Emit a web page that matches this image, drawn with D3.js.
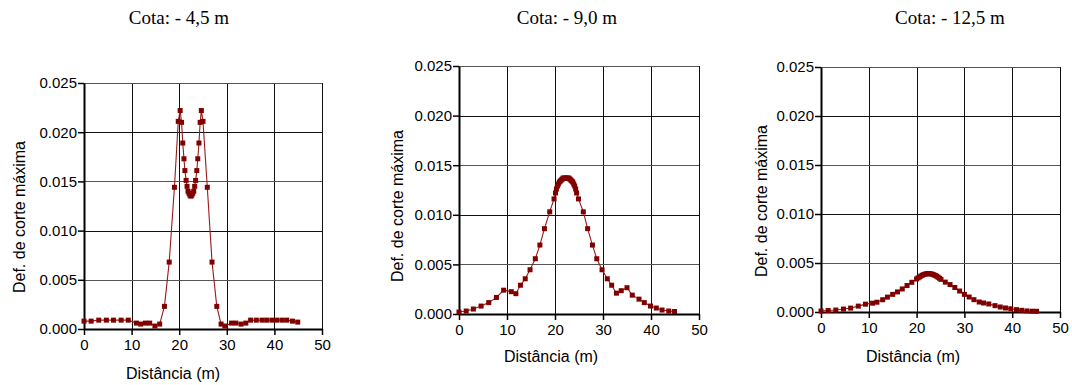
<!DOCTYPE html>
<html>
<head>
<meta charset="utf-8">
<script src="https://cdn.jsdelivr.net/npm/d3@7"></script>
<style>
  body { margin: 0; background: #fff; }
  .panel-title { font-family: 'Liberation Serif', 'Times New Roman', serif; font-size: 19px; fill: #000; }
  .axis-title { font-family: 'Liberation Sans', Arial, sans-serif; font-size: 16px; fill: #000; }
</style>
</head>
<body>
<div id="chart"></div>
<script>
const titles = ['Cota: - 4,5 m', 'Cota: - 9,0 m', 'Cota: - 12,5 m']
const xTicks = [0, 10, 20, 30, 40, 50]
const yTicks = [0, 0.005, 0.01, 0.015, 0.02, 0.025]
const xLabel = 'Distância (m)'
const yLabel = 'Def. de corte máxima'

// cota -4,5 m
const distance1 = [0, 1.5, 3.1, 4.7, 6.2, 7.8, 9.3, 11.0, 11.9, 12.9, 13.8, 14.9, 15.9, 16.9, 17.9, 19.0,
  19.8, 20.2, 20.5, 20.75, 21.0, 21.2, 21.45, 21.65, 21.85, 22.05, 22.25, 22.45, 22.65, 22.85, 23.05, 23.25,
  23.45, 23.7, 23.9, 24.15, 24.4, 24.65, 25.0, 25.9, 26.9, 27.9, 28.8, 29.6, 31.0, 31.9, 33.0, 34.0, 35.0,
  36.2, 37.4, 38.4, 39.5, 40.5, 41.6, 42.6, 43.8, 44.9]
const deformation1 = [0.0008, 0.0008, 0.0009, 0.0009, 0.0009, 0.0009, 0.0009, 0.0006, 0.0005, 0.0006, 0.0006,
  0.0003, 0.0005, 0.0023, 0.0068, 0.0144, 0.0211, 0.0222, 0.0210, 0.0189, 0.0173, 0.0161, 0.0151, 0.0145,
  0.0140, 0.0138, 0.0136, 0.0135, 0.0136, 0.0138, 0.0140, 0.0145, 0.0151, 0.0161, 0.0173, 0.0189, 0.0210,
  0.0222, 0.0211, 0.0144, 0.0068, 0.0023, 0.0005, 0.0003, 0.0006, 0.0006, 0.0005, 0.0006, 0.0009, 0.0009,
  0.0009, 0.0009, 0.0009, 0.0009, 0.0009, 0.0009, 0.0008, 0.0007]

// cota -9,0 m
const distance2 = [0, 1.5, 3.0, 4.6, 6.2, 7.8, 9.3, 10.9, 11.85, 12.8, 13.8, 14.8, 15.9, 16.85, 17.8, 18.9, 19.8,
  20.1, 20.3, 20.5, 20.7, 20.9, 21.1, 21.3, 21.5, 21.7, 21.9, 22.1, 22.3, 22.5, 22.7, 22.9, 23.1, 23.3, 23.5,
  23.7, 23.9, 24.1, 24.3, 24.5, 24.9, 25.9, 26.8, 27.8, 28.7, 29.8, 30.9, 31.8, 32.8, 33.8, 35.0, 36.1, 37.5,
  38.6, 39.9, 41.1, 42.3, 43.7, 44.9]
const deformation2 = [0.0002, 0.0003, 0.0005, 0.0008, 0.00115, 0.00167, 0.0024, 0.00225, 0.00205, 0.0029,
  0.00355, 0.00446, 0.00557, 0.00695, 0.0086, 0.0103, 0.0116, 0.0122, 0.0126, 0.0129, 0.0131, 0.0133, 0.0134,
  0.0135, 0.0136, 0.0137, 0.0137, 0.0137, 0.0137, 0.0137, 0.0137, 0.0137, 0.0136, 0.0135, 0.0134, 0.0133,
  0.0131, 0.0129, 0.0126, 0.0122, 0.0116, 0.0103, 0.0086, 0.00695, 0.00557, 0.00446, 0.00355, 0.0029, 0.0021,
  0.00235, 0.00265, 0.0019, 0.0015, 0.00115, 0.0008, 0.0006, 0.0004, 0.0003, 0.00025]

// cota -12,5 m
const distance3 = [0, 1.5, 3.1, 4.7, 6.2, 7.8, 9.3, 10.8, 11.7, 12.9, 13.9, 15.0, 16.0, 17.0, 18.0, 19.0, 20.0,
  20.3, 20.6, 20.9, 21.2, 21.5, 21.8, 22.1, 22.4, 22.7, 23.0, 23.3, 23.6, 23.9, 24.2, 24.5, 24.8, 25.1,
  26.0, 27.0, 28.0, 29.0, 30.0, 31.0, 32.0, 33.1, 34.0, 35.1, 36.4, 37.5, 38.6, 39.7, 40.9, 42.0, 43.1, 44.2, 45.1]
const deformation3 = [0.0001, 0.00015, 0.0002, 0.0003, 0.0004, 0.0006, 0.0008, 0.0009, 0.001, 0.00125, 0.00152,
  0.0018, 0.00205, 0.00235, 0.0027, 0.00303, 0.00337, 0.00348, 0.00358, 0.00367, 0.00375, 0.00382, 0.00387,
  0.0039, 0.00392, 0.00391, 0.00389, 0.00385, 0.0038, 0.00373, 0.00365, 0.00355, 0.00344, 0.00333,
  0.00305, 0.0028, 0.0025, 0.00214, 0.0018, 0.00153, 0.00126, 0.00102, 0.00092, 0.00082, 0.00065, 0.00051,
  0.00041, 0.00033, 0.00024, 0.00017, 0.00011, 0.00008, 0.00007]

const series = [
  { distance: distance1, deformation: deformation1 },
  { distance: distance2, deformation: deformation2 },
  { distance: distance3, deformation: deformation3 }
]

// plot rectangles and label spots, one per panel
const panels = [
  { left: 84, right: 322, top: 83, bottom: 329, titleX: 179, titleY: 24, yTitleX: 19, yTitleY: 217, xTitleX: 173, xTitleY: 379 },
  { left: 459, right: 699, top: 66, bottom: 314, titleX: 567, titleY: 24, yTitleX: 397, yTitleY: 206, xTitleX: 551, xTitleY: 362 },
  { left: 821, right: 1060, top: 67, bottom: 312, titleX: 950, titleY: 24, yTitleX: 761, yTitleY: 201, xTitleX: 913, xTitleY: 362 }
]

const svg = d3.select('#chart')
  .append('svg')
  .attr('width', 1072)
  .attr('height', 385)

panels.forEach((p, i) => drawPanel(p, series[i], titles[i]))

function drawPanel(p, s, title) {
  const x = d3.scaleLinear().domain([0, 50]).range([p.left, p.right])
  const y = d3.scaleLinear().domain([0, 0.025]).range([p.bottom, p.top])
  const g = svg.append('g')

  g.append('g')
    .selectAll('line')
    .data(xTicks.slice(1))
    .enter()
    .append('line')
    .attr('x1', d => Math.round(x(d)) + 0.5)
    .attr('x2', d => Math.round(x(d)) + 0.5)
    .attr('y1', p.top)
    .attr('y2', p.bottom)
    .attr('stroke', '#111')
  g.append('g')
    .selectAll('line')
    .data(yTicks.slice(1))
    .enter()
    .append('line')
    .attr('x1', p.left)
    .attr('x2', p.right)
    .attr('y1', d => Math.round(y(d)) + 0.5)
    .attr('y2', d => Math.round(y(d)) + 0.5)
    .attr('stroke', (d, i) => i % 2 ? '#111' : '#555')

  const xAxis = g.append('g')
    .attr('transform', `translate(0,${p.bottom})`)
    .call(d3.axisBottom(x).tickValues(xTicks).tickSize(6).tickSizeOuter(0).tickPadding(4))
  const yAxis = g.append('g')
    .attr('transform', `translate(${p.left},0)`)
    .call(d3.axisLeft(y).tickValues(yTicks).tickFormat(d3.format('.3f')).tickSize(6).tickSizeOuter(0).tickPadding(1))
  ;[xAxis, yAxis].forEach(a => {
    a.attr('font-family', "'Liberation Sans', Arial, sans-serif").attr('font-size', 15)
    a.select('.domain').attr('stroke', '#000').attr('stroke-width', 2)
    a.selectAll('.tick line').attr('stroke', '#000').attr('stroke-width', 1.5)
    a.selectAll('.tick text').attr('fill', '#000')
  })

  const line = d3.line()
    .x(d => x(d[0]))
    .y(d => y(d[1]))
  const points = s.distance.map((d, i) => [d, s.deformation[i]])
  g.append('path')
    .datum(points)
    .attr('d', line)
    .attr('fill', 'none')
    .attr('stroke', '#9a1a1a')
    .attr('stroke-width', 1.1)
  g.append('g')
    .selectAll('rect')
    .data(points)
    .enter()
    .append('rect')
    .attr('x', d => x(d[0]) - 2.5)
    .attr('y', d => y(d[1]) - 2.5)
    .attr('width', 5)
    .attr('height', 5)
    .attr('fill', '#800000')

  svg.append('text')
    .attr('class', 'panel-title')
    .attr('x', p.titleX)
    .attr('y', p.titleY)
    .attr('text-anchor', 'middle')
    .text(title)
  svg.append('text')
    .attr('class', 'axis-title')
    .attr('transform', `translate(${p.yTitleX},${p.yTitleY}) rotate(-90)`)
    .attr('text-anchor', 'middle')
    .attr('dy', '0.35em')
    .text(yLabel)
  svg.append('text')
    .attr('class', 'axis-title')
    .attr('x', p.xTitleX)
    .attr('y', p.xTitleY)
    .attr('text-anchor', 'middle')
    .text(xLabel)
}
</script>
</body>
</html>
